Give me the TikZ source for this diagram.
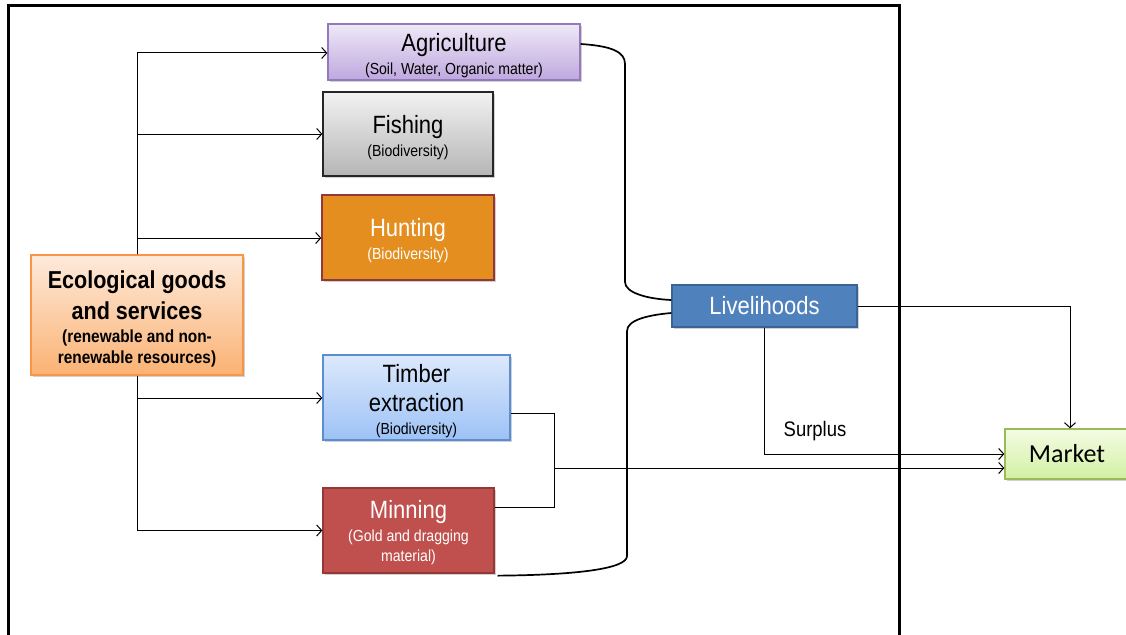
\documentclass[tikz,border=0pt]{standalone}
\usepackage{fontspec}
\setmainfont{Liberation Sans}[FakeStretch=0.88]
\newfontfamily\marketfont{Carlito}
\usetikzlibrary{arrows.meta,shadows}

\definecolor{agriTop}{HTML}{EEE8F7}
\definecolor{agriBot}{HTML}{BFA8DE}
\definecolor{agriLine}{HTML}{9579BD}
\definecolor{fishTop}{HTML}{F2F2F2}
\definecolor{fishBot}{HTML}{B5B5B5}
\definecolor{huntFill}{HTML}{E48E1F}
\definecolor{redLine}{HTML}{953735}
\definecolor{ecoTop}{HTML}{FEEADB}
\definecolor{ecoBot}{HTML}{FAB273}
\definecolor{ecoLine}{HTML}{F79646}
\definecolor{timTop}{HTML}{DDE9FC}
\definecolor{timBot}{HTML}{9DC2F6}
\definecolor{timLine}{HTML}{5B8DD0}
\definecolor{minFill}{HTML}{C0504D}
\definecolor{livFill}{HTML}{4F81BD}
\definecolor{livLine}{HTML}{3A6496}
\definecolor{mktTop}{HTML}{F4FCE4}
\definecolor{mktBot}{HTML}{D2F0A2}
\definecolor{mktLine}{HTML}{9BBB59}

\newcommand\subf{\fontsize{16}{19}\selectfont}
% invisible strut that lowers a box's text block a little
\newcommand\topgap[1]{\rule{0pt}{#1}}

\tikzset{
  box/.style={draw, line width=1.3pt, inner sep=0pt, align=center,
    font=\fontsize{25}{28}\selectfont,
    drop shadow={shadow xshift=1.5pt, shadow yshift=-2pt, opacity=.3, fill=black!60}},
  arr/.style={line width=1pt, -{Straight Barb[length=5pt,width=11pt,line width=1pt]}},
  link/.style={line width=1pt},
  curve/.style={line width=1.7pt}
}

\begin{document}
\begin{tikzpicture}[x=1pt,y=-1pt]
\useasboundingbox (0,0) rectangle (1126,634);
\fill[white] (0,0) rectangle (1126,634);

% outer frame, open at the bottom
\draw[line width=3pt] (8,640) -- (8,6) -- (899,6) -- (899,640);

% activity boxes
\node[box, draw=agriLine, top color=agriTop, bottom color=agriBot,
  minimum width=252pt, minimum height=56pt] (agri) at (454,52)
  {\topgap{24.5pt}Agriculture\\[-5pt]\subf (Soil, Water, Organic matter)};
\node[box, draw=black!85, top color=fishTop, bottom color=fishBot,
  minimum width=170pt, minimum height=84pt] (fish) at (408,134)
  {\topgap{24.5pt}Fishing\\[-5pt]\subf (Biodiversity)};
\node[box, draw=redLine, fill=huntFill, text=white,
  minimum width=172pt, minimum height=85pt] (hunt) at (408,237.5)
  {\topgap{24.5pt}Hunting\\[-5pt]\subf (Biodiversity)};
\node[box, draw=ecoLine, top color=ecoTop, bottom color=ecoBot,
  font=\fontsize{24.5}{31}\selectfont\bfseries,
  minimum width=212pt, minimum height=120pt] (eco) at (137,315)
  {\topgap{26pt}Ecological goods\\and services\\[-8pt]
   \fontsize{17.5}{21}\selectfont (renewable and non-\\[-10pt]
   \fontsize{17.5}{21}\selectfont renewable resources)};
\node[box, draw=timLine, top color=timTop, bottom color=timBot,
  minimum width=187pt, minimum height=85pt] (timber) at (416.5,397.5)
  {\topgap{24.5pt}Timber\\[1pt]extraction\\[-5pt]\subf (Biodiversity)};
\node[box, draw=redLine, fill=minFill, text=white,
  minimum width=171pt, minimum height=85pt] (mining) at (408.5,530.5)
  {\topgap{22.5pt}Minning\\[-5pt]\subf (Gold and dragging\\[-8pt]\subf material)};
\node[box, draw=livLine, fill=livFill, text=white,
  minimum width=185pt, minimum height=42pt] (liv) at (764.5,306)
  {Livelihoods};
\node[box, draw=mktLine, top color=mktTop, bottom color=mktBot,
  font=\marketfont\fontsize{26}{30}\selectfont,
  minimum width=124pt, minimum height=50pt] (market) at (1067,454)
  {Market};

% branches out of the ecological resources
\draw[arr] (eco.north) |- ([yshift=-1pt]agri.west);
\draw[arr] (eco.north) |- (fish.west);
\draw[arr] (eco.north) |- ([yshift=-0.5pt]hunt.west);
\draw[arr] (eco.south) |- ([yshift=-0.5pt]timber.west);
\draw[arr] (eco.south) |- (mining.west);

% braces joining agriculture and mining to livelihoods
\draw[curve] ([yshift=8pt]agri.east) .. controls (612,46) and (625,52) .. (625,64)
  -- (625,282) .. controls (625,293) and (648,299) .. ([yshift=6pt]liv.west);
\draw[curve] ([yshift=-7pt]liv.west) .. controls (648,315) and (627,320) .. (627,331)
  -- (627,556) .. controls (627,569) and (575,575) .. ([xshift=3pt,yshift=-2pt]mining.south east);

% timber and mining products to market
\coordinate (join) at (554,468);
\draw[link] ([yshift=-15.5pt]timber.east) -| (join);
\draw[link] ([yshift=23.5pt]mining.east) -| (join);
\draw[arr] (join) -- (market.west |- join);

% livelihoods to market
\draw[arr] (liv.east) -| ([xshift=3pt]market.north);
\draw[arr] (liv.south) |- (market.west);
\node[font=\fontsize{21}{24}\selectfont] (surplus) at (815,431) {Surplus};
\end{tikzpicture}
\end{document}
